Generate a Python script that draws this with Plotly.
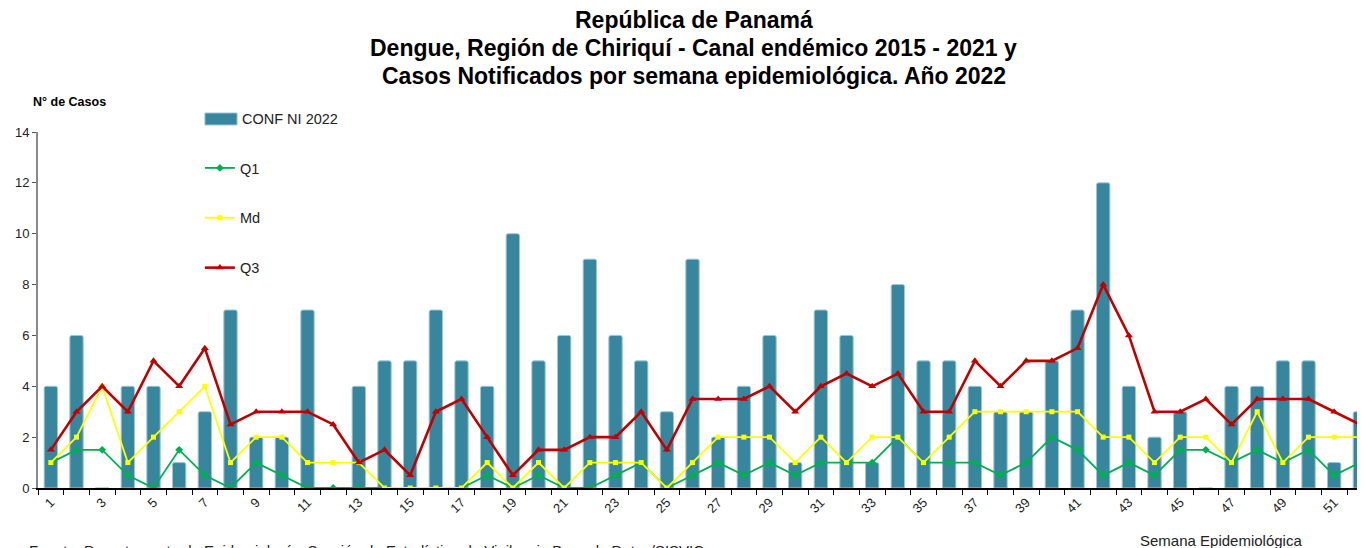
import plotly.graph_objects as go

# Semanas epidemiológicas 2022
weeks = list(range(1, 53))

conf_2022 = [4, 6, 0, 4, 4, 1, 3, 7, 2, 2, 7, 0, 4, 5, 5, 7, 5, 4, 10, 5,
             6, 9, 6, 5, 3, 9, 2, 4, 6, 1, 7, 6, 1, 8, 5, 5, 4, 3, 3, 5,
             7, 12, 4, 2, 3, 0, 4, 4, 5, 5, 1, 3]

q1 = [1, 1.5, 1.5, 0.5, 0, 1.5, 0.5, 0, 1, 0.5, 0, 0, 0, 0, 0, 0, 0, 0.5, 0, 0.5,
      0, 0, 0.5, 1, 0, 0.5, 1, 0.5, 1, 0.5, 1, 1, 1, 2, 1, 1, 1, 0.5, 1, 2,
      1.5, 0.5, 1, 0.5, 1.5, 1.5, 1, 1.5, 1, 1.5, 0.5, 1]

md = [1, 2, 4, 1, 2, 3, 4, 1, 2, 2, 1, 1, 1, 0, 0, 0, 0, 1, 0, 1,
      0, 1, 1, 1, 0, 1, 2, 2, 2, 1, 2, 1, 2, 2, 1, 2, 3, 3, 3, 3,
      3, 2, 2, 1, 2, 2, 1, 3, 1, 2, 2, 2]

q3 = [1.5, 3, 4, 3, 5, 4, 5.5, 2.5, 3, 3, 3, 2.5, 1, 1.5, 0.5, 3, 3.5, 2, 0.5, 1.5,
      1.5, 2, 2, 3, 1.5, 3.5, 3.5, 3.5, 4, 3, 4, 4.5, 4, 4.5, 3, 3, 5, 4, 5, 5,
      5.5, 8, 6, 3, 3, 3.5, 2.5, 3.5, 3.5, 3.5, 3, 2.5]

tick_weeks = list(range(1, 53, 2))

title_lines = [
    "República de Panamá",
    "Dengue, Región de Chiriquí - Canal endémico 2015 - 2021 y",
    "Casos Notificados por semana epidemiológica. Año 2022",
]

FONT = "Arial, Liberation Sans, sans-serif"
BAR_COLOR = "#38869E"

fig = go.Figure()

fig.add_trace(go.Bar(
    x=weeks, y=conf_2022, name="CONF NI 2022",
    width=0.52,
    marker=dict(color=BAR_COLOR, line=dict(color="#9cc7d4", width=1), cornerradius=2),
    showlegend=False
))

fig.add_trace(go.Scatter(
    x=weeks, y=q1, name="Q1", mode="lines+markers",
    line=dict(color="#00B050", width=1.8),
    marker=dict(symbol="diamond", size=6, color="#00B050"),
    legendgroup="b"
))

fig.add_trace(go.Scatter(
    x=weeks, y=md, name="Md", mode="lines+markers",
    line=dict(color="#FFFF00", width=1.8),
    marker=dict(symbol="square", size=5, color="#FFFF00"),
    legendgroup="c"
))

fig.add_trace(go.Scatter(
    x=weeks, y=q3, name="Q3", mode="lines+markers",
    line=dict(color="#C00000", width=2.6),
    marker=dict(symbol="triangle-up", size=7, color="#C00000"),
    legendgroup="d"
))

# the page body adds 8px, so the figure is 8px smaller and everything sits 8px up/left
fig.update_layout(
    width=1357, height=540,
    margin=dict(l=30, r=0, t=92, b=60, autoexpand=False),
    paper_bgcolor="white", plot_bgcolor="white",
    font=dict(family=FONT, size=13, color="#222222"),
    showlegend=True,
    legend=dict(
        x=0.122, y=0.866, xanchor="left", yanchor="top",
        orientation="v", tracegroupgap=28,
        font=dict(family=FONT, size=14.5, color="#222222"),
        bgcolor="rgba(0,0,0,0)", itemwidth=30
    ),
    bargap=0.5,
)

fig.update_xaxes(
    range=[0.5, 52.2], automargin=False,
    tickmode="array", tickvals=tick_weeks, ticktext=[str(w) for w in tick_weeks],
    tickangle=-45, ticks="", showgrid=False, zeroline=False,
    showline=True, linecolor="black", linewidth=1.5,
    tickfont=dict(family=FONT, size=13, color="#222222"),
    minor=dict(tickmode="linear", tick0=0.5, dtick=1, ticks="outside",
               ticklen=5, tickcolor="black", showgrid=False),
)

fig.update_yaxes(
    range=[0, 14], dtick=2, ticks="outside", ticklen=4, tickcolor="#555555",
    domain=[0, 0.9175], automargin=False,
    showgrid=False, zeroline=False,
    showline=True, linecolor="#888888", linewidth=2,
    tickfont=dict(family=FONT, size=13, color="#222222"),
)

# legend entry for the bars: wide swatch like the original
fig.add_shape(
    type="rect", xref="paper", yref="paper",
    x0=0.1258, x1=0.150, y0=0.9356, y1=0.9665,
    fillcolor=BAR_COLOR, line=dict(color="#9cc7d4", width=1)
)
fig.add_annotation(
    text="CONF NI 2022", xref="paper", yref="paper",
    x=0.1522, y=0.951, xanchor="left", yanchor="middle", showarrow=False,
    font=dict(family=FONT, size=14.5, color="#222222")
)

# title, one annotation per line to control line spacing
for line, ypos in zip(title_lines, [1.206, 1.134, 1.062]):
    fig.add_annotation(
        text=f"<b>{line}</b>", xref="paper", yref="paper",
        x=0.4943, y=ypos, xanchor="center", yanchor="middle",
        showarrow=False, font=dict(family=FONT, size=23, color="black")
    )

fig.add_annotation(
    text="<b>N° de Casos</b>", xref="paper", yref="paper",
    x=-0.005, y=0.972, xanchor="left", yanchor="bottom", showarrow=False,
    font=dict(family=FONT, size=12.5, color="black")
)

fig.add_annotation(
    text="Semana Epidemiológica", xref="paper", yref="paper",
    x=0.829, y=-0.107, xanchor="left", yanchor="top", showarrow=False,
    font=dict(family=FONT, size=15, color="#222222")
)

fig.add_annotation(
    text="Fuente: Departamento de Epidemiología, Sección de Estadística de Vigilancia Base de Datos/SISVIC",
    xref="paper", yref="paper",
    x=-0.008, y=-0.135, xanchor="left", yanchor="top", showarrow=False,
    font=dict(family=FONT, size=15, color="#222222")
)

fig.write_html("out.html")
